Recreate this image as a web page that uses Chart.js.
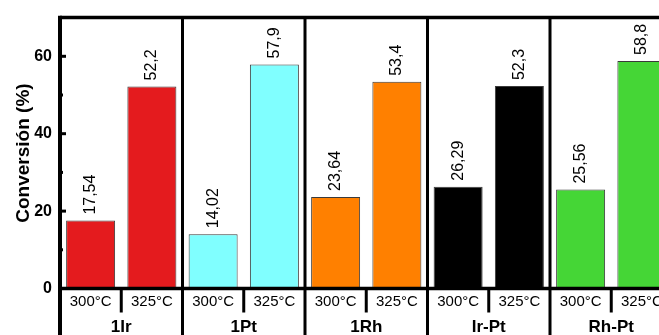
<!DOCTYPE html>
<html>
<head>
<meta charset="utf-8">
<script src="https://cdn.jsdelivr.net/npm/chart.js@4/dist/chart.umd.min.js"></script>
<style>
  html, body { margin: 0; padding: 0; background: #fff; overflow: hidden; }
  #wrap { position: relative; width: 700px; height: 335px; }
</style>
</head>
<body>
<div id="wrap"><canvas id="c"></canvas></div>
<script>
// Catalysts and reaction temperatures
const groups = ['1Ir', '1Pt', '1Rh', 'Ir-Pt', 'Rh-Pt'];
const temps = ['300°C', '325°C'];
// Conversion (%) at each temperature
const conv300 = [17.54, 14.02, 23.64, 26.29, 25.56];
const conv325 = [52.2, 57.9, 53.4, 52.3, 58.8];
// Bar fill per catalyst
const groupColors = ['#E41B1E', '#80FFFF', '#FF8000', '#000000', '#45D636'];
// Y axis
const yTicksMajor = [0, 20, 40, 60];
const yTicksMinor = [10, 30, 50];
const yMax = 70;

const FONT = '"Liberation Sans", Arial, sans-serif';
const fmt = v => String(v).replace('.', ',');

const framePlugin = {
  id: 'frame',
  afterDatasetsDraw(chart) {
    const ctx = chart.ctx;
    const ca = chart.chartArea;
    const x = chart.scales.x;
    const y = chart.scales.y;
    const H = chart.height;
    const y0 = y.getPixelForValue(0);
    const yTop = y.getPixelForValue(yMax);
    const rightEdge = chart.width;

    ctx.save();
    ctx.strokeStyle = '#000';
    ctx.lineCap = 'butt';

    // value labels above bars
    ctx.fillStyle = '#000';
    ctx.font = '16px ' + FONT;
    ctx.textAlign = 'left';
    ctx.textBaseline = 'middle';
    chart.data.datasets.forEach((ds, di) => {
      const meta = chart.getDatasetMeta(di);
      meta.data.forEach((bar, i) => {
        ctx.save();
        ctx.translate(bar.x, bar.y - 6);
        ctx.rotate(-Math.PI / 2);
        ctx.fillText(fmt(ds.data[i]), 0, 0);
        ctx.restore();
      });
    });

    // top border
    ctx.lineWidth = 3.5;
    ctx.beginPath();
    ctx.moveTo(ca.left, yTop);
    ctx.lineTo(rightEdge, yTop);
    ctx.stroke();

    // zero baseline
    ctx.beginPath();
    ctx.moveTo(ca.left, y0);
    ctx.lineTo(rightEdge, y0);
    ctx.stroke();

    // left axis line, extended through the label rows
    ctx.lineWidth = 4;
    ctx.beginPath();
    ctx.moveTo(ca.left, yTop - 1.75);
    ctx.lineTo(ca.left, H);
    ctx.stroke();

    // y ticks (pointing inward)
    ctx.lineWidth = 3;
    yTicksMajor.forEach(v => {
      if (v === 0) return;
      const py = y.getPixelForValue(v);
      ctx.beginPath();
      ctx.moveTo(ca.left, py);
      ctx.lineTo(ca.left + 6, py);
      ctx.stroke();
    });
    yTicksMinor.forEach(v => {
      const py = y.getPixelForValue(v);
      ctx.beginPath();
      ctx.moveTo(ca.left, py);
      ctx.lineTo(ca.left + 3, py);
      ctx.stroke();
    });

    // group dividers (full height) and temperature dividers
    const n = groups.length;
    for (let i = 0; i < n; i++) {
      const cx = x.getPixelForValue(i);
      const half = (x.getPixelForValue(1) - x.getPixelForValue(0)) / 2;
      if (i > 0) {
        ctx.lineWidth = 3;
        ctx.beginPath();
        ctx.moveTo(cx - half, yTop);
        ctx.lineTo(cx - half, H);
        ctx.stroke();
      }
      ctx.lineWidth = 3;
      ctx.beginPath();
      ctx.moveTo(cx, y0);
      ctx.lineTo(cx, y0 + 24);
      ctx.stroke();
    }

    // temperature labels
    ctx.font = '15px ' + FONT;
    ctx.textAlign = 'center';
    ctx.textBaseline = 'middle';
    chart.data.datasets.forEach((ds, di) => {
      const meta = chart.getDatasetMeta(di);
      meta.data.forEach(bar => {
        ctx.fillText(temps[di], bar.x, y0 + 13.5);
      });
    });

    // catalyst labels
    ctx.font = 'bold 17px ' + FONT;
    ctx.textBaseline = 'alphabetic';
    groups.forEach((g, i) => {
      ctx.fillText(g, x.getPixelForValue(i), y0 + 43.5);
    });

    // y axis title
    ctx.font = 'bold 19px ' + FONT;
    ctx.textAlign = 'center';
    ctx.textBaseline = 'middle';
    ctx.translate(24, (ca.top + ca.bottom) / 2);
    ctx.rotate(-Math.PI / 2);
    ctx.fillText('Conversión (%)', 0, 0);
    ctx.restore();
  }
};

new Chart(document.getElementById('c'), {
  type: 'bar',
  data: {
    labels: groups,
    datasets: [
      { label: temps[0], data: conv300, backgroundColor: groupColors, borderColor: '#3a3a3a', borderWidth: 1 },
      { label: temps[1], data: conv325, backgroundColor: groupColors, borderColor: '#3a3a3a', borderWidth: 1 }
    ]
  },
  options: {
    responsive: true,
    maintainAspectRatio: false,
    animation: false,
    devicePixelRatio: 1,
    datasets: { bar: { categoryPercentage: 1.0, barPercentage: 0.8 } },
    layout: { padding: { left: 0, right: 27.5, top: 15, bottom: 46.5 } },
    plugins: { legend: { display: false }, tooltip: { enabled: false } },
    scales: {
      x: { display: false, offset: true },
      y: {
        min: 0,
        max: yMax,
        afterFit(scale) { scale.width = 60; },
        border: { display: false },
        grid: { display: false, drawTicks: false },
        ticks: {
          stepSize: 10,
          padding: 8,
          color: '#000',
          font: { family: FONT, size: 16, weight: 'bold' },
          callback: v => (yTicksMajor.includes(v) ? String(v) : '')
        }
      }
    }
  },
  plugins: [framePlugin]
});
</script>
</body>
</html>
